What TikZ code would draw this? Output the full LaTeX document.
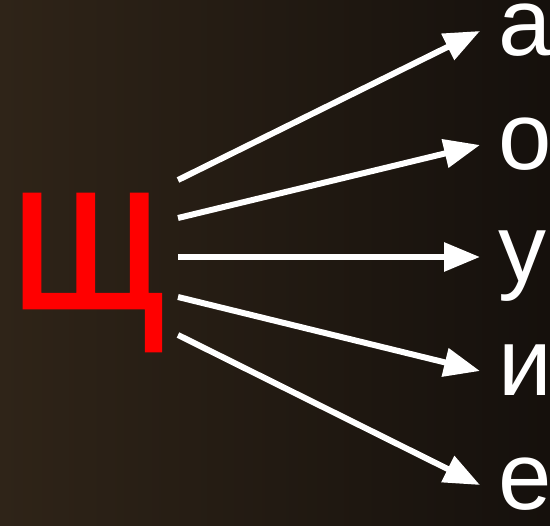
\documentclass[tikz,border=0pt]{standalone}
\usepackage{fontspec}
\setmainfont{Liberation Sans}
\newfontfamily\hushfont[FakeBold=1.2]{Liberation Sans}
\usetikzlibrary{arrows.meta}
\definecolor{bgleft}{HTML}{2F2418}
\definecolor{bgright}{HTML}{15100C}
\tikzset{>={Triangle[length=36pt,width=28pt]},
  vowel/.style={text=white,font=\fontsize{96}{96}\selectfont,inner xsep=18pt,inner ysep=0pt,outer sep=0pt,text height=50pt,text depth=0pt,anchor=west},
  hush/.style={text=red,font=\hushfont\fontsize{216}{216}\selectfont,inner sep=0pt,anchor=base,xscale=0.87},
  link/.style={white,line width=6pt,->}}
\begin{document}
\begin{tikzpicture}[x=1pt,y=-1pt]
\shade[left color=bgleft,right color=bgright] (0,0) rectangle (550,526);
\useasboundingbox (0,0) rectangle (550,526);
\node[hush] (sh) at (88,308) {щ};
\foreach \n/\l/\ty/\sy in {a/а/31/180,o/о/145/218,u/у/257/257,i/и/371/297,e/е/485/335}{
  \coordinate (s\n) at (178,\sy);
  \node[vowel] (\n) at (480,\ty) {\l};
  \draw[link] (s\n)--(\n.west);}
\end{tikzpicture}
\end{document}
